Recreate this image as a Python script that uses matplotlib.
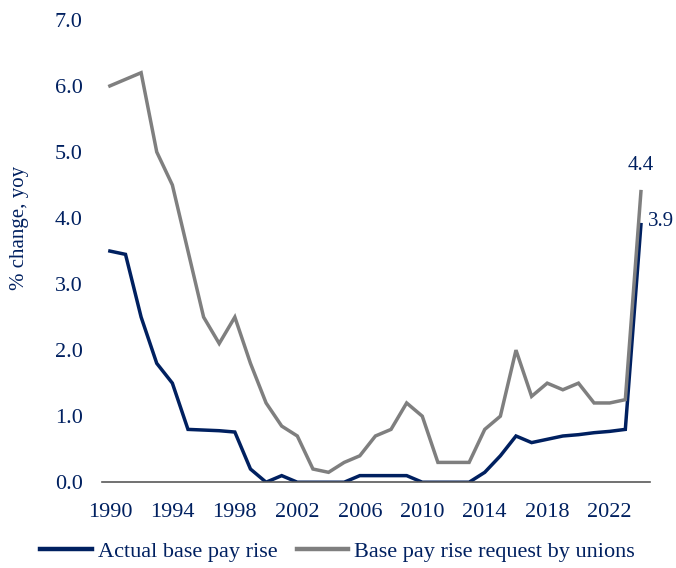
import numpy as np
import matplotlib.pyplot as plt

# data
years = np.arange(1990, 2025)
actual = [3.5, 3.45, 2.5, 1.8, 1.5, 0.8, 0.79, 0.78, 0.76, 0.2,
          0.0, 0.1, 0.0, 0.0, 0.0, 0.0, 0.1, 0.1, 0.1, 0.1,
          0.0, 0.0, 0.0, 0.0, 0.15, 0.4, 0.7, 0.6, 0.65, 0.7,
          0.72, 0.75, 0.77, 0.8, 3.9]
unions = [6.0, 6.1, 6.2, 5.0, 4.5, 3.5, 2.5, 2.1, 2.5, 1.8,
          1.2, 0.85, 0.7, 0.2, 0.15, 0.3, 0.4, 0.7, 0.8, 1.2,
          1.0, 0.3, 0.3, 0.3, 0.8, 1.0, 2.0, 1.3, 1.5, 1.4,
          1.5, 1.2, 1.2, 1.25, 4.4]
xticks = np.arange(1990, 2023, 4)

navy = '#002060'
grey = '#7f7f7f'
fs = 16

plt.rcParams['font.family'] = ['Liberation Serif', 'DejaVu Serif']

fig = plt.figure(figsize=(6.76, 5.68), dpi=100)
ax = fig.add_axes([0.151, 0.151, 0.811, 0.814])

ax.plot(years, actual, color=navy, lw=2.5, label='Actual base pay rise', solid_joinstyle='miter')
ax.plot(years, unions, color=grey, lw=2.5, label='Base pay rise request by unions', solid_joinstyle='miter')

# end labels
ax.annotate('4.4', (years[-1], unions[-1]), xytext=(0, 12), textcoords='offset points',
            ha='center', va='bottom', color=navy, fontsize=15)
ax.annotate('3.9', (years[-1], actual[-1]), xytext=(5, 2), textcoords='offset points',
            ha='left', va='center', color=navy, fontsize=15)

ax.set_xlim(1989.5, 2024.6)
ax.set_ylim(0, 7)
ax.set_yticks(np.arange(0, 7.1, 1))
ax.set_yticklabels([f'{v:.1f}' for v in np.arange(0, 7.1, 1)])
ax.set_xticks(xticks)
ax.tick_params(axis='both', length=0, labelsize=fs, labelcolor=navy)
ax.tick_params(axis='x', pad=15)
ax.tick_params(axis='y', pad=14)
for s in ['top', 'right', 'left']:
    ax.spines[s].set_visible(False)
ax.spines['bottom'].set_color('#595959')
ax.spines['bottom'].set_linewidth(1.2)
ax.set_ylabel('% change, yoy', color=navy, fontsize=15)
ax.yaxis.set_label_coords(-0.133, 0.55)

leg = ax.legend(loc='upper center', bbox_to_anchor=(0.43, -0.085), ncol=2, frameon=False,
                fontsize=fs, labelcolor=navy, handlelength=2.3, columnspacing=0.85,
                handletextpad=0.3)
for h in leg.legend_handles:
    h.set_linewidth(3.2)

plt.savefig('out.png', dpi=100)
